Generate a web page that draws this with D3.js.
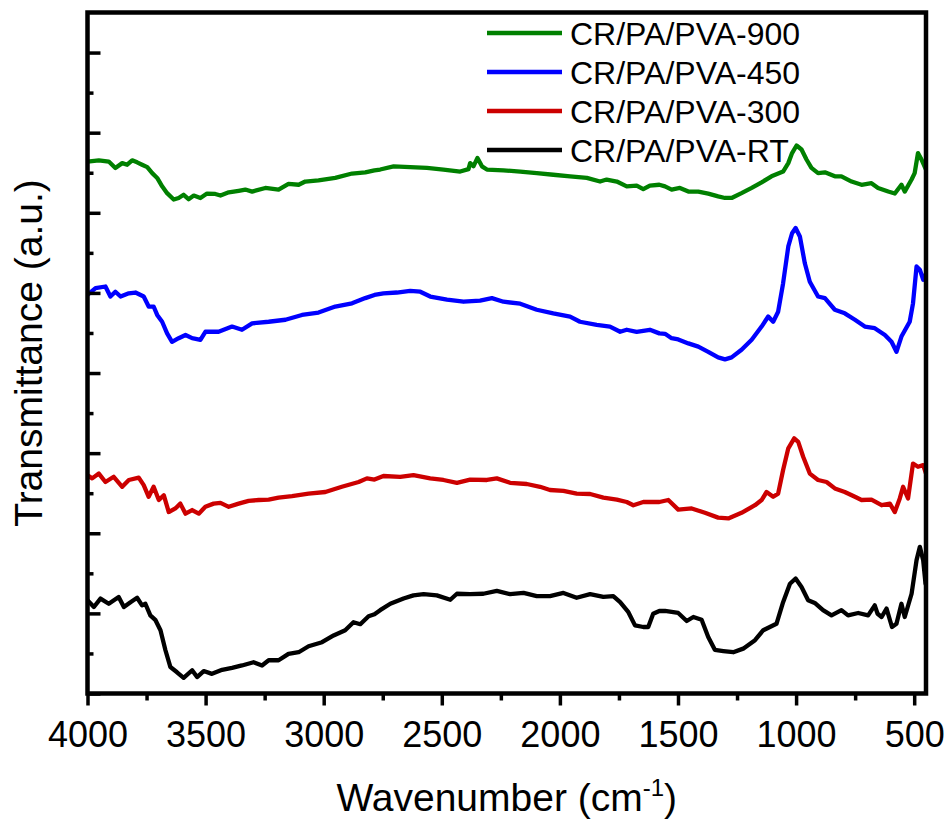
<!DOCTYPE html>
<html>
<head>
<meta charset="utf-8">
<script src="https://cdn.jsdelivr.net/npm/d3@7/dist/d3.min.js"></script>
<style>
	body { margin: 0; background: #fff; }
	svg { display: block; font-family: "Liberation Sans", Arial, sans-serif; }
</style>
</head>
<body>
<div id="chart"></div>
<script>
var WIDTH = 952;
var HEIGHT = 825;

// spectra: [wavenumber (cm-1), transmittance (a.u., offset)]
var rt = [
	[4000,2.33],[3973,2.16],[3945,2.37],[3910,2.24],[3868,2.41],[3846,2.16],[3818,2.28],[3790,2.39],
	[3769,2.20],[3755,2.24],[3734,1.95],[3712,1.83],[3691,1.58],[3670,1.08],[3649,0.66],[3621,0.53],
	[3593,0.39],[3557,0.58],[3536,0.41],[3508,0.56],[3473,0.49],[3430,0.59],[3388,0.64],[3346,0.70],
	[3297,0.78],[3261,0.70],[3233,0.83],[3191,0.83],[3149,0.99],[3106,1.03],[3064,1.18],[3007,1.28],
	[2958,1.45],[2909,1.58],[2874,1.78],[2845,1.73],[2810,1.93],[2785,1.98],[2761,2.08],[2718,2.24],
	[2662,2.37],[2620,2.45],[2577,2.48],[2521,2.45],[2464,2.34],[2436,2.49],[2380,2.48],[2324,2.49],
	[2267,2.56],[2211,2.48],[2154,2.51],[2098,2.43],[2042,2.43],[1985,2.51],[1929,2.39],[1872,2.48],
	[1816,2.41],[1774,2.43],[1745,2.28],[1710,2.03],[1682,1.70],[1647,1.66],[1626,1.66],[1605,1.99],
	[1579,2.06],[1555,2.06],[1499,2.01],[1463,1.81],[1435,1.91],[1400,1.84],[1372,1.41],[1344,1.09],
	[1308,1.06],[1266,1.03],[1224,1.12],[1174,1.33],[1139,1.58],[1111,1.66],[1083,1.74],[1055,2.28],
	[1026,2.74],[1002,2.87],[977,2.66],[949,2.33],[921,2.26],[886,2.08],[850,1.95],[808,2.08],
	[780,1.95],[737,2.01],[695,1.95],[667,2.20],[655,1.99],[638,1.91],[617,2.12],[594,1.66],
	[575,1.74],[554,2.24],[540,1.91],[511,2.49],[490,3.33],[476,3.66],[462,3.33],[452,2.74]
];
var t300 = [
	[4000,5.45],[3980,5.37],[3952,5.49],[3924,5.28],[3889,5.41],[3853,5.16],[3825,5.33],[3783,5.39],
	[3762,5.20],[3741,4.91],[3720,5.16],[3698,4.83],[3677,4.95],[3656,4.53],[3628,4.62],[3607,4.74],
	[3585,4.49],[3557,4.58],[3529,4.49],[3501,4.66],[3466,4.74],[3437,4.76],[3402,4.66],[3360,4.74],
	[3318,4.81],[3275,4.83],[3233,4.84],[3191,4.89],[3134,4.93],[3064,4.99],[2993,5.03],[2923,5.16],
	[2852,5.28],[2817,5.37],[2785,5.34],[2747,5.43],[2676,5.41],[2620,5.45],[2549,5.37],[2493,5.33],
	[2436,5.26],[2380,5.34],[2309,5.33],[2267,5.37],[2211,5.26],[2140,5.23],[2084,5.16],[2042,5.08],
	[1985,5.06],[1929,4.99],[1872,4.98],[1816,4.89],[1759,4.84],[1717,4.78],[1689,4.70],[1647,4.78],
	[1579,4.78],[1541,4.83],[1499,4.59],[1442,4.62],[1386,4.51],[1330,4.39],[1287,4.37],[1231,4.51],
	[1174,4.70],[1146,4.83],[1125,5.03],[1097,4.91],[1076,4.99],[1055,5.58],[1033,6.12],[1008,6.37],
	[991,6.28],[970,5.91],[942,5.49],[907,5.33],[871,5.28],[836,5.12],[794,5.03],[751,4.91],
	[723,4.83],[681,4.84],[638,4.70],[603,4.74],[582,4.53],[561,4.87],[547,5.16],[526,4.87],
	[505,5.74],[484,5.66],[462,5.70],[450,5.49]
];
var t450 = [
	[4000,9.95],[3966,10.12],[3924,10.16],[3903,9.91],[3882,10.03],[3860,9.91],[3825,9.99],[3797,10.01],
	[3762,9.91],[3741,9.66],[3720,9.66],[3705,9.45],[3684,9.28],[3663,8.99],[3642,8.78],[3614,8.87],
	[3585,8.95],[3557,8.87],[3522,8.83],[3501,9.03],[3445,9.03],[3388,9.16],[3346,9.08],[3303,9.24],
	[3233,9.28],[3162,9.33],[3092,9.45],[3022,9.51],[2951,9.66],[2880,9.74],[2824,9.87],[2785,9.95],
	[2747,9.99],[2690,10.01],[2634,10.05],[2591,10.03],[2549,9.91],[2478,9.83],[2408,9.78],[2338,9.81],
	[2288,9.87],[2239,9.78],[2168,9.73],[2098,9.58],[2028,9.49],[1957,9.41],[1915,9.28],[1844,9.20],
	[1788,9.16],[1745,9.03],[1717,9.08],[1675,9.03],[1619,9.08],[1579,8.99],[1555,8.98],[1527,8.87],
	[1499,8.84],[1456,8.74],[1414,8.66],[1372,8.53],[1330,8.39],[1301,8.34],[1273,8.39],[1231,8.58],
	[1188,8.83],[1146,9.16],[1118,9.41],[1097,9.28],[1076,9.53],[1055,10.24],[1033,11.16],[1017,11.49],
	[1002,11.62],[984,11.41],[963,10.74],[942,10.28],[907,9.91],[878,9.87],[836,9.58],[794,9.49],
	[751,9.33],[709,9.16],[667,9.12],[624,8.95],[596,8.78],[575,8.53],[554,8.91],[519,9.28],
	[505,9.74],[490,10.66],[476,10.58],[462,10.33],[450,10.49]
];
var t900 = [
	[4000,13.28],[3952,13.31],[3910,13.28],[3882,13.12],[3853,13.24],[3832,13.20],[3811,13.31],[3790,13.26],
	[3769,13.20],[3747,13.14],[3726,12.99],[3705,12.87],[3684,12.66],[3663,12.49],[3635,12.33],[3614,12.37],
	[3593,12.45],[3572,12.34],[3550,12.43],[3522,12.37],[3494,12.48],[3459,12.47],[3437,12.43],[3402,12.51],
	[3360,12.55],[3332,12.58],[3303,12.53],[3247,12.62],[3191,12.58],[3149,12.72],[3106,12.70],[3078,12.78],
	[3022,12.81],[2951,12.87],[2880,12.98],[2824,13.01],[2785,13.06],[2761,13.08],[2704,13.16],[2634,13.14],
	[2563,13.12],[2493,13.08],[2422,13.03],[2387,13.09],[2380,13.24],[2366,13.16],[2349,13.37],[2330,13.16],
	[2309,13.08],[2239,13.06],[2168,13.03],[2098,12.99],[2028,12.95],[1957,12.91],[1886,12.87],[1830,12.78],
	[1802,12.83],[1759,12.78],[1717,12.66],[1675,12.68],[1647,12.59],[1619,12.68],[1579,12.70],[1555,12.66],
	[1527,12.58],[1492,12.62],[1456,12.53],[1414,12.53],[1372,12.48],[1330,12.41],[1301,12.37],[1273,12.37],
	[1231,12.49],[1188,12.62],[1146,12.76],[1104,12.91],[1055,13.03],[1033,13.24],[1017,13.49],[998,13.68],
	[977,13.58],[956,13.33],[935,13.12],[907,12.99],[878,13.01],[836,12.91],[808,12.91],[765,12.78],
	[723,12.70],[681,12.74],[653,12.62],[610,12.53],[582,12.48],[554,12.70],[540,12.53],[511,12.83],
	[498,12.99],[484,13.49],[469,13.33],[450,13.08]
];

var seriesNames = ["CR/PA/PVA-900", "CR/PA/PVA-450", "CR/PA/PVA-300", "CR/PA/PVA-RT"];
var seriesData = [t900, t450, t300, rt];
var seriesColours = ["#008000", "#0000ff", "#cc0000", "#000000"];

var xMajorTicks = [4000, 3500, 3000, 2500, 2000, 1500, 1000, 500];
var xMinorTicks = [3750, 3250, 2750, 2250, 1750, 1250, 750];
var yMajorTicks = [0, 2, 4, 6, 8, 10, 12, 14, 16];
var yMinorTicks = [1, 3, 5, 7, 9, 11, 13, 15];

var margin = {left: 87.5, right: 926, top: 12.5, bottom: 693.5};

var svg = d3.select('#chart').append('svg')
	.attr('width', WIDTH).attr('height', HEIGHT);

var x = d3.scaleLinear().domain([4000, 450]).range([margin.left, margin.right]);
var y = d3.scaleLinear().domain([0, 17]).range([margin.bottom, margin.top]);

// clip the traces to the frame
svg.append('clipPath').attr('id', 'plotclip')
	.append('rect')
	.attr('x', margin.left).attr('y', margin.top)
	.attr('width', margin.right - margin.left).attr('height', margin.bottom - margin.top);

var line = d3.line().x(d => x(d[0])).y(d => y(d[1]));

var traces = svg.append('g').attr('clip-path', 'url(#plotclip)');
// draw bottom-up so the black trace sits underneath
for(let i = seriesData.length - 1; i >= 0; i--) {
	traces.append('path')
		.datum(seriesData[i])
		.attr('fill', 'none')
		.attr('stroke', seriesColours[i])
		.attr('stroke-width', 4.3)
		.attr('stroke-linejoin', 'round')
		.attr('stroke-linecap', 'round')
		.attr('d', line);
}

// x axis: outward ticks, major + minor
var xAxis = svg.append('g').attr('transform', 'translate(0,' + margin.bottom + ')');
xAxis.call(d3.axisBottom(x).tickValues(xMajorTicks).tickFormat(d3.format('d'))
	.tickSize(12).tickSizeOuter(0).tickPadding(16));
xAxis.selectAll('.tick text')
	.attr('font-size', 36).attr('fill', '#000')
	.attr('font-family', '"Liberation Sans", Arial, sans-serif');
xAxis.selectAll('.tick line').attr('stroke-width', 3.5);
xAxis.select('path').remove();

var xMinor = svg.append('g').attr('transform', 'translate(0,' + margin.bottom + ')');
xMinor.call(d3.axisBottom(x).tickValues(xMinorTicks).tickSize(7).tickFormat(''));
xMinor.selectAll('.tick line').attr('stroke-width', 3.5);
xMinor.select('path').remove();

// y axis: inward ticks, no labels
var yAxis = svg.append('g').attr('transform', 'translate(' + margin.left + ',0)');
yAxis.call(d3.axisRight(y).tickValues(yMajorTicks).tickSize(13).tickFormat(''));
yAxis.selectAll('.tick line').attr('stroke-width', 3.5);
yAxis.select('path').remove();

var yMinor = svg.append('g').attr('transform', 'translate(' + margin.left + ',0)');
yMinor.call(d3.axisRight(y).tickValues(yMinorTicks).tickSize(6).tickFormat(''));
yMinor.selectAll('.tick line').attr('stroke-width', 3.5);
yMinor.select('path').remove();

// frame
svg.append('rect')
	.attr('x', margin.left).attr('y', margin.top)
	.attr('width', margin.right - margin.left).attr('height', margin.bottom - margin.top)
	.attr('fill', 'none').attr('stroke', '#000').attr('stroke-width', 4.5);

// axis titles
var xTitle = svg.append('text')
	.attr('x', (margin.left + margin.right) / 2).attr('y', 811)
	.attr('text-anchor', 'middle').attr('font-size', 39).attr('fill', '#000');
xTitle.append('tspan').text('Wavenumber (cm');
xTitle.append('tspan').attr('font-size', 24).attr('dy', -15).text('-1');
xTitle.append('tspan').attr('dy', 15).text(')');

svg.append('text')
	.attr('transform', 'translate(42,' + ((margin.top + margin.bottom) / 2) + ') rotate(-90)')
	.attr('text-anchor', 'middle').attr('font-size', 39).attr('fill', '#000')
	.text('Transmittance (a.u.)');

// legend
var legend = svg.append('g').attr('transform', 'translate(487,33)');
seriesNames.forEach(function(name, i) {
	let row = legend.append('g').attr('transform', 'translate(0,' + (i * 39) + ')');
	row.append('line')
		.attr('x1', 0).attr('x2', 75).attr('y1', 0).attr('y2', 0)
		.attr('stroke', seriesColours[i]).attr('stroke-width', 4.5);
	row.append('text')
		.attr('x', 83).attr('y', 11.5)
		.attr('font-size', 32).attr('fill', '#000')
		.text(name);
});
</script>
</body>
</html>
